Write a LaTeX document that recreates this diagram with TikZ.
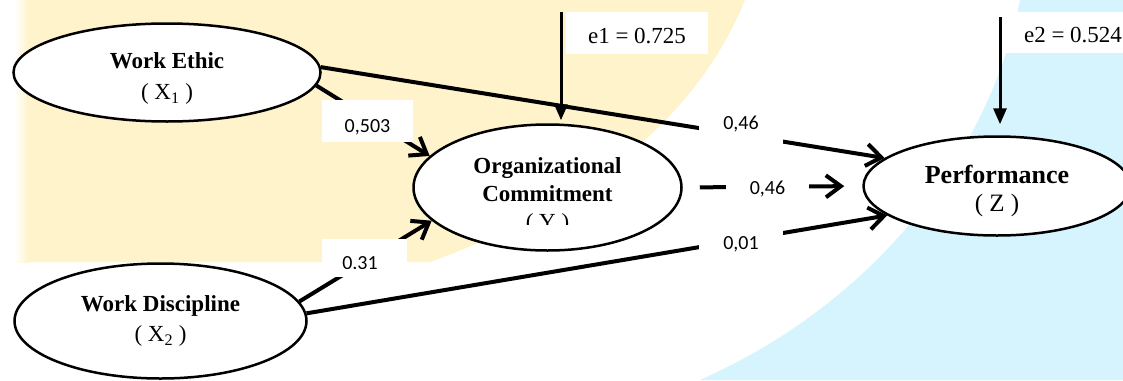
\documentclass[tikz,border=0pt]{standalone}
\usepackage{fontspec}
\setmainfont{Liberation Serif}
\newfontfamily\numfont{Carlito}
\usetikzlibrary{arrows.meta,shapes.geometric}
\definecolor{bgyellow}{HTML}{FFF3CB}
\definecolor{bgblue}{HTML}{D6F4FD}
\begin{document}
\begin{tikzpicture}[x=1pt,y=-1pt,
  latent/.style={ellipse, draw, line width=2.5pt, fill=white, inner sep=0pt, align=center},
  conn/.style={line width=4pt, -{Straight Barb[length=15pt,width=22pt]}},
  errarrow/.style={line width=3pt, -{Triangle[length=16pt,width=13pt]}},
  numbox/.style={fill=white, inner sep=0pt, font=\numfont\fontsize{20}{24}\selectfont, text height=12pt, text depth=0pt},
  errbox/.style={fill=white, inner sep=0pt, font=\fontsize{23}{27}\selectfont, text height=20pt, text depth=0pt},
]
\clip (0,0) rectangle (1123,380);
\fill[white] (0,0) rectangle (1123,380);
% background watermark
\fill[bgyellow] (28,0) -- (745,0) .. controls (700,110) and (600,200) .. (430,262) -- (28,262) -- cycle;
\shade[left color=white, right color=bgyellow] (14,0) rectangle (28.5,262);
\fill[bgblue] (1020,0) .. controls (990,150) and (880,300) .. (700,380) -- (1123,380) -- (1123,0) -- cycle;

% latent variables
\node[latent, minimum width=307pt, minimum height=98pt, font=\fontsize{23}{31}\selectfont] (WE) at (167,72.5)
  {\rule{0pt}{28pt}\textbf{Work Ethic}\\( X\textsubscript{1} )};
\node[latent, minimum width=292pt, minimum height=115pt, font=\fontsize{23}{31}\selectfont] (WD) at (160.5,321)
  {\textbf{Work Discipline}\\[-1pt]( X\textsubscript{2} )};
\node[latent, minimum width=268pt, minimum height=126pt, font=\fontsize{23}{28}\selectfont] (OC) at (547.5,187.5)
  {\textbf{Organizational}\\\rule[-16.6pt]{0pt}{16.6pt}\textbf{Commitment}};
\node[latent, minimum width=267pt, minimum height=99pt, font=\fontsize{26}{28}\selectfont] (Perf) at (997,186)
  {\rule{0pt}{28.7pt}\textbf{Performance}\\{\fontsize{25}{28}\selectfont ( Z )}};
\begin{scope}
  \clip (480,200) rectangle (620,224);
  \node[font=\fontsize{23}{28}\selectfont, anchor=base, inner sep=0pt] (OCsym) at (547.5,229) {( Y )};
\end{scope}

% paths
\draw[conn] (WE.-5) -- (OC.165);
\draw[conn] (WD.8) -- (OC.196);
\draw[conn] (WE.2) -- (Perf.166);
\draw[conn, shorten <=17pt, shorten >=18pt] (OC.east) -- (Perf.west);
\draw[conn] (WD.3) -- (Perf.195);

% error terms
\coordinate (e1s) at (561,12);
\coordinate (e2s) at (1000,17);
\draw[errarrow, shorten >=3pt] (e1s) -- (e1s |- OC.north);
\draw[errarrow, shorten >=11pt] (e2s) -- (e2s |- Perf.north);
\node[errbox, minimum width=142pt, minimum height=42pt] (e1lab) at (637,33) {e1 = 0.725};
\node[errbox, minimum width=136pt, minimum height=41pt] (e2lab) at (1073,32.5) {e2 = 0.524};

% coefficient labels
\node[numbox, minimum width=91pt, minimum height=42pt, text height=22pt] (l503) at (367.5,121) {0,503};
\node[numbox, minimum width=85pt, minimum height=38pt] (l31) at (364.5,258) {};
\begin{scope}
  \clip (322,239) rectangle (407,268);
  \node[numbox, anchor=base, text height=0pt, fill=none] (t31) at (360,269.5) {0,31};
\end{scope}
\node[numbox, minimum width=84pt, minimum height=46pt] (l46a) at (741,123) {0,46};
\node[numbox, minimum width=83pt, minimum height=40pt] (l46b) at (767.5,188) {0,46};
\node[numbox, minimum width=84pt, minimum height=46pt] (l01) at (741,243) {0,01};
\end{tikzpicture}
\end{document}
